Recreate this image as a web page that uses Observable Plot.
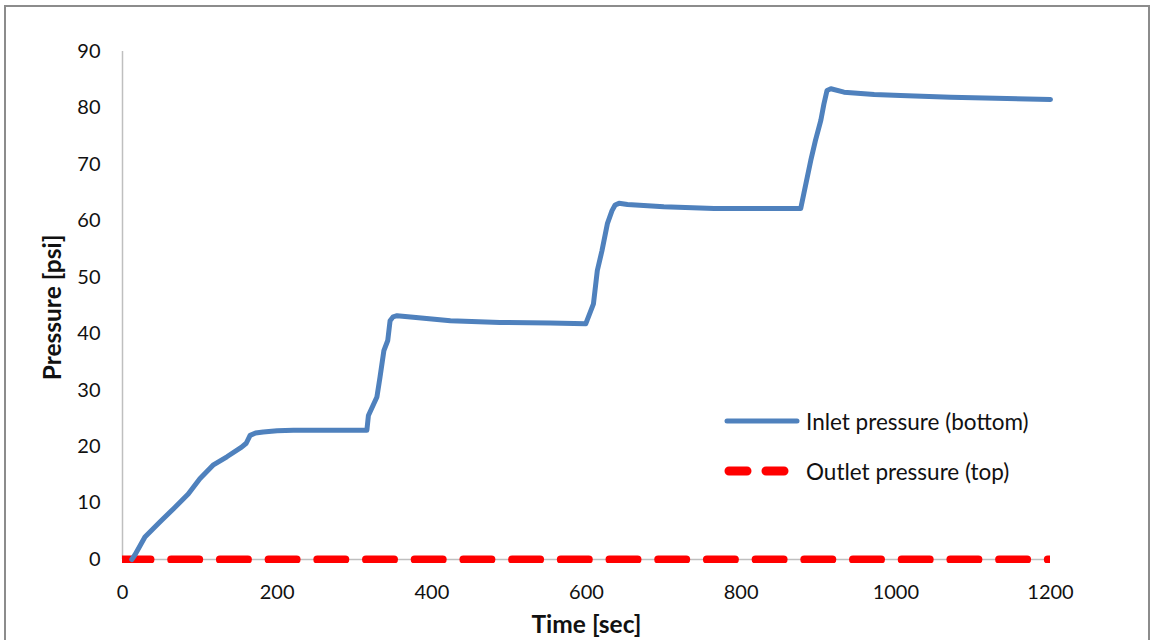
<!DOCTYPE html>
<html>
<head>
<meta charset="utf-8">
<script src="https://cdn.jsdelivr.net/npm/d3@7"></script>
<script src="https://cdn.jsdelivr.net/npm/@observablehq/plot@0.6"></script>
<style>
  html, body { margin: 0; padding: 0; background: #fff; }
  #wrap { position: relative; width: 1155px; height: 640px; overflow: hidden; font-family: Lato, "Open Sans", sans-serif; }
  #border { position: absolute; left: 4px; top: 5px; width: 1146px; height: 700px; border: 2px solid #8c8c8c; box-sizing: border-box; pointer-events: none; }
  #legend { position: absolute; left: 722px; top: 405px; font-size: 22.5px; color: #111; }
  .item { display: flex; align-items: center; height: 32px; margin-bottom: 18px; }
  .item svg { margin-right: 4px; }
</style>
</head>
<body>
<div id="wrap">
  <div id="chart"></div>
  <div id="border"></div>
  <div id="legend"></div>
</div>
<script>
// Inlet pressure (bottom) series
const inletTime = [12, 16, 29, 48, 66, 85, 100, 117, 135, 154, 160, 165, 172, 182, 200, 221, 270, 316, 318, 329, 333, 338, 343, 346, 350, 355, 376, 424, 488, 553, 599, 609, 614, 620, 627, 633, 637, 642, 653, 700, 765, 817, 877, 881, 890, 896, 903, 907, 911, 916, 933, 972, 1006, 1071, 1200];
const inletPressure = [0, 0.8, 4, 6.6, 9, 11.6, 14.3, 16.7, 18.2, 19.9, 20.6, 22.0, 22.4, 22.6, 22.8, 22.9, 22.9, 22.9, 25.5, 28.8, 32.3, 37, 38.8, 42.3, 43.0, 43.2, 42.9, 42.3, 42.0, 41.9, 41.75, 45.3, 51.2, 54.7, 59.5, 61.8, 62.8, 63.1, 62.9, 62.5, 62.2, 62.2, 62.2, 64.8, 70.7, 74.2, 77.8, 80.7, 83.1, 83.4, 82.8, 82.4, 82.2, 81.9, 81.5];
// Outlet pressure (top) series
const outletTime = [0, 1200];
const outletPressure = [0, 0];
// Ticks
const xTicks = [0, 200, 400, 600, 800, 1000, 1200];
const yTicks = [0, 10, 20, 30, 40, 50, 60, 70, 80, 90];
const seriesNames = ["Inlet pressure (bottom)", "Outlet pressure (top)"];
const colors = ["#4F81BD", "#FF0000"];

const inlet = inletTime.map((t, i) => ({t, p: inletPressure[i]}));
const outlet = outletTime.map((t, i) => ({t, p: outletPressure[i]}));

const font = 'Lato, "Open Sans", sans-serif';
const chart = Plot.plot({
  width: 1155,
  height: 640,
  marginLeft: 122,
  marginRight: 105,
  marginTop: 51,
  marginBottom: 77,
  style: {fontFamily: font, fontSize: "20px", color: "#111", background: "transparent"},
  x: {domain: [0, 1200], ticks: xTicks},
  y: {domain: [0, 90], ticks: yTicks, insetBottom: 4},
  marks: [
    Plot.ruleY([0], {stroke: "#BFBFBF", strokeWidth: 1.5}),
    Plot.ruleX([0], {y1: 0, y2: 90, stroke: "#BFBFBF", strokeWidth: 1.5}),
    Plot.axisX({ticks: xTicks, tickSize: 0, tickPadding: 21, label: null, fontSize: 20, tickFormat: d => String(d)}),
    Plot.axisY({ticks: yTicks, tickSize: 0, tickPadding: 22, label: null, fontSize: 20, tickFormat: d => String(d)}),
    Plot.line(outlet, {x: "t", y: "p", stroke: colors[1], strokeWidth: 8, strokeDasharray: "28,20.7", strokeLinecap: "round", clip: true}),
    Plot.line(inlet, {x: "t", y: "p", stroke: colors[0], strokeWidth: 5, strokeLinejoin: "round", strokeLinecap: "round"}),
    Plot.text(["Time [sec]"], {frameAnchor: "bottom", dy: 69, fontWeight: "bold", fontSize: 24.5, fill: "#111", textAnchor: "middle"}),
    Plot.text(["Pressure [psi]"], {frameAnchor: "left", rotate: -90, dx: -69, fontWeight: "bold", fontSize: 24.5, fill: "#111", textAnchor: "middle"})
  ]
});
document.getElementById("chart").appendChild(chart);

// Legend
const legend = document.getElementById("legend");
const samples = [
  `<svg width="80" height="12"><line x1="5" y1="6" x2="75" y2="6" stroke="${colors[0]}" stroke-width="5" stroke-linecap="round"/></svg>`,
  `<svg width="80" height="12"><line x1="7" y1="6" x2="70" y2="6" stroke="${colors[1]}" stroke-width="9" stroke-linecap="round" stroke-dasharray="18,19"/></svg>`
];
seriesNames.forEach((name, i) => {
  const div = document.createElement("div");
  div.className = "item";
  div.innerHTML = samples[i] + `<span>${name}</span>`;
  legend.appendChild(div);
});
</script>
</body>
</html>
